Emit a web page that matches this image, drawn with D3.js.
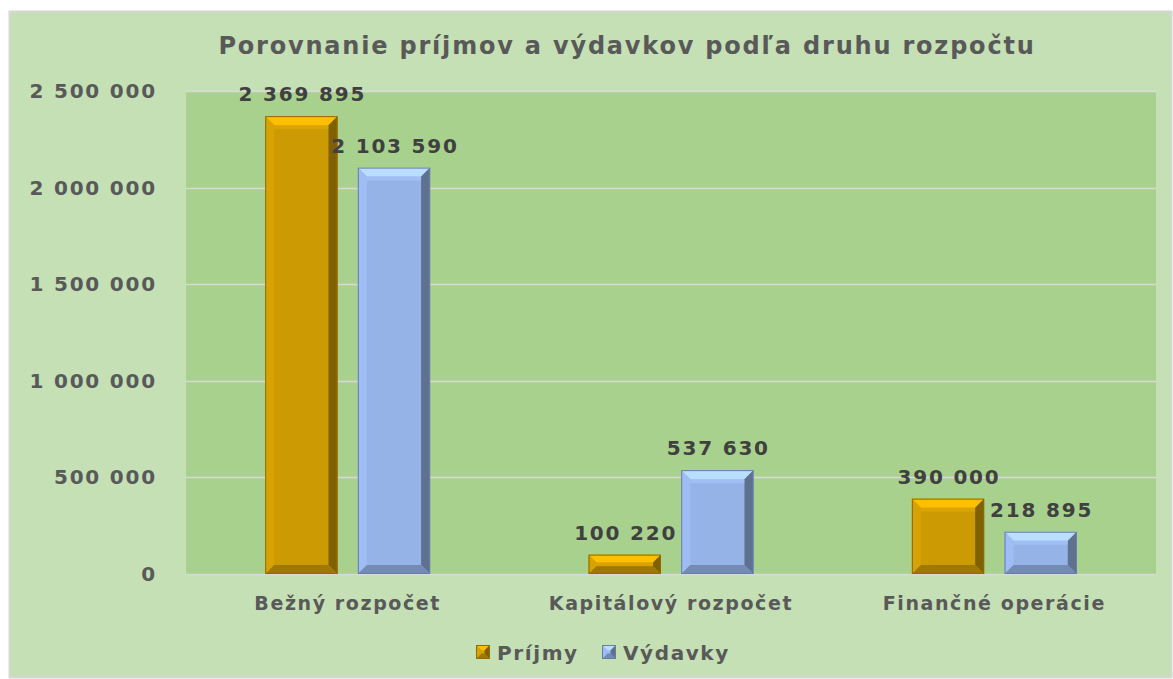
<!DOCTYPE html>
<html>
<head>
<meta charset="utf-8">
<script src="https://cdn.jsdelivr.net/npm/d3@7"></script>
<style>
  body { margin: 0; background: #ffffff; }
  text { font-family: "DejaVu Sans", Verdana, sans-serif; font-weight: bold; }
</style>
</head>
<body>
<div id="chart"></div>
<script>
// data
const categories = ["Bežný rozpočet", "Kapitálový rozpočet", "Finančné operácie"];
const seriesNames = ["Príjmy", "Výdavky"];
const prijmy = [2369895, 100220, 390000];
const vydavky = [2103590, 537630, 218895];
const yTicks = [0, 500000, 1000000, 1500000, 2000000, 2500000];
const title = "Porovnanie príjmov a výdavkov podľa druhu rozpočtu";

const width = 1173, height = 679;
const plot = {left: 186, right: 1156, top: 91, bottom: 574};
const colors = {"Príjmy": "#cc9a03", "Výdavky": "#95b3e7"};

const fmt = d3.formatLocale({decimal: ",", thousands: " ", grouping: [3], currency: ["", ""]}).format(",d");

const svg = d3.select("#chart").append("svg")
    .attr("width", width)
    .attr("height", height);

// outer chart area
svg.append("rect")
    .attr("x", 9.5).attr("y", 11.5)
    .attr("width", 1162).attr("height", 666)
    .attr("fill", "#c5e0b4")
    .attr("stroke", "#d6d6d6")
    .attr("stroke-width", 2);

// plot area
svg.append("rect")
    .attr("x", plot.left).attr("y", plot.top)
    .attr("width", plot.right - plot.left).attr("height", plot.bottom - plot.top)
    .attr("fill", "#a9d18e");

// title
svg.append("text")
    .attr("x", 627).attr("y", 54)
    .attr("text-anchor", "middle")
    .attr("fill", "#595959")
    .style("font-size", "24px")
    .style("letter-spacing", "1.8px")
    .text(title);

// scales
const x0 = d3.scaleBand()
    .domain(categories)
    .range([plot.left, plot.right])
    .paddingInner(0.49)
    .paddingOuter(0.245);

const x1 = d3.scaleBand()
    .domain(seriesNames)
    .range([0, x0.bandwidth()])
    .paddingInner(0.22);

const y = d3.scaleLinear()
    .domain([0, 2500000])
    .range([plot.bottom, plot.top]);

// gridlines
svg.append("g")
    .selectAll("line")
    .data(yTicks)
    .join("line")
    .attr("x1", plot.left).attr("x2", plot.right)
    .attr("y1", d => Math.round(y(d)) + 0.5)
    .attr("y2", d => Math.round(y(d)) + 0.5)
    .attr("stroke", "#d9d9d9")
    .attr("stroke-width", 1.5);

// y axis labels
const yAxis = svg.append("g")
    .attr("transform", "translate(" + (plot.left - 29) + ",0)")
    .call(d3.axisLeft(y).tickValues(yTicks).tickFormat(fmt).tickSize(0).tickPadding(0));
yAxis.select(".domain").remove();
yAxis.selectAll("text")
    .attr("fill", "#595959")
    .style("font-size", "20px")
    .style("letter-spacing", "1.8px")
    .style("font-family", "'DejaVu Sans', Verdana, sans-serif")
    .style("font-weight", "bold");

// x axis labels
const xAxis = svg.append("g")
    .attr("transform", "translate(0," + plot.bottom + ")")
    .call(d3.axisBottom(x0).tickSize(0).tickPadding(23));
xAxis.select(".domain").remove();
xAxis.selectAll("text")
    .attr("fill", "#595959")
    .style("font-size", "19px")
    .style("letter-spacing", "1.6px")
    .style("font-family", "'DejaVu Sans', Verdana, sans-serif")
    .style("font-weight", "bold");

// table of bars
const rows = [];
categories.forEach((c, i) => {
    rows.push({cat: c, series: "Príjmy", value: prijmy[i]});
    rows.push({cat: c, series: "Výdavky", value: vydavky[i]});
});

// bevelled bar, drawn as a face plus four edge trapezoids
function bevelBar(g, x, yTop, w, h, color) {
    const b = Math.min(9, h / 2.5);
    const c = d3.color(color);
    g.append("rect").attr("x", x).attr("y", yTop).attr("width", w).attr("height", h).attr("fill", color);
    const x2 = x + w, y2 = yTop + h;
    const faces = [
        {pts: [[x, yTop], [x2, yTop], [x2 - b, yTop + b], [x + b, yTop + b]], fill: c.brighter(0.6)},
        {pts: [[x, yTop], [x + b, yTop + b], [x + b, y2 - b], [x, y2]], fill: c.brighter(0.15)},
        {pts: [[x2, yTop], [x2, y2], [x2 - b, y2 - b], [x2 - b, yTop + b]], fill: c.darker(1.3)},
        {pts: [[x, y2], [x + b, y2 - b], [x2 - b, y2 - b], [x2, y2]], fill: c.darker(0.7)}
    ];
    g.selectAll(null).data(faces).join("polygon")
        .attr("points", d => d.pts.map(p => p.join(",")).join(" "))
        .attr("fill", d => d.fill);
    // soft highlight strip under the top edge
    g.append("rect").attr("x", x + b).attr("y", yTop + b).attr("width", w - 2 * b).attr("height", Math.min(4, h / 6))
        .attr("fill", c.brighter(0.3)).attr("opacity", 0.6);
    g.append("rect").attr("x", x + 0.5).attr("y", yTop + 0.5).attr("width", w - 1).attr("height", h - 1)
        .attr("fill", "none").attr("stroke", c.darker(1)).attr("stroke-width", 1);
}

const bars = svg.append("g");
rows.forEach(d => {
    const bx = x0(d.cat) + x1(d.series);
    const yTop = y(d.value);
    bevelBar(bars.append("g"), bx, yTop, x1.bandwidth(), plot.bottom - yTop, colors[d.series]);
});

// value labels
svg.append("g")
    .selectAll("text")
    .data(rows)
    .join("text")
    .attr("x", d => x0(d.cat) + x1(d.series) + x1.bandwidth() / 2 + 1)
    .attr("y", d => y(d.value) - 15)
    .attr("text-anchor", "middle")
    .attr("fill", "#404040")
    .style("font-size", "20px")
    .style("letter-spacing", "1.8px")
    .text(d => fmt(d.value));

// legend
const legend = svg.append("g").attr("transform", "translate(476,645)");
const legendX = [0, 126];
seriesNames.forEach((s, i) => {
    const g = legend.append("g").attr("transform", "translate(" + legendX[i] + ",0)");
    bevelBar(g.append("g"), 0, 0, 14, 14, colors[s]);
    g.append("text")
        .attr("x", 21).attr("y", 15)
        .attr("fill", "#595959")
        .style("font-size", "20px")
        .style("letter-spacing", "1.6px")
        .text(s);
});
</script>
</body>
</html>
